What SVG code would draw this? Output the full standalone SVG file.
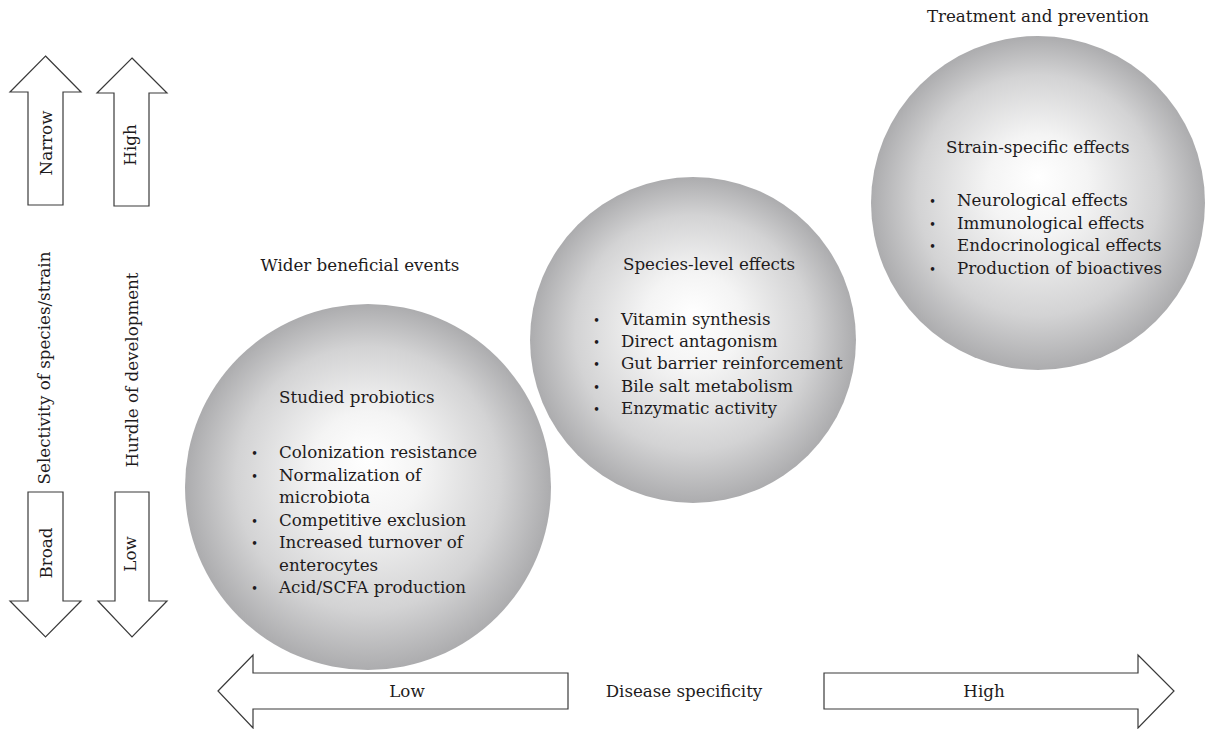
<svg xmlns="http://www.w3.org/2000/svg" width="1207" height="729" viewBox="0 0 1207 729">
  <style>
    text { font-family: "DejaVu Serif", "Liberation Serif", serif; font-size: 16.7px; fill: #1e1b1c; }
    .mid { text-anchor: middle; }
    .dot { font-size: 12px; }
    .arrow { fill: #ffffff; stroke: #3a3a3a; stroke-width: 1.2; stroke-linejoin: miter; }
    .ball { fill: url(#shade); }
  </style>
  <defs>
    <radialGradient id="shade" cx="0.5" cy="0.5" r="0.5" fx="0.5" fy="0.42">
      <stop offset="0" stop-color="#ffffff"/>
      <stop offset="0.3" stop-color="#f4f4f4"/>
      <stop offset="0.72" stop-color="#d3d3d4"/>
      <stop offset="1" stop-color="#acacae"/>
    </radialGradient>
  </defs>

  <!-- vertical scale arrows -->
  <g id="axis-selectivity">
    <polygon class="arrow" points="45.5,56 81,92 63,92 63,205 28,205 28,92 10,92"/>
    <text class="mid" transform="translate(52,143) rotate(-90)">Narrow</text>
    <text class="mid" transform="translate(50,368) rotate(-90)">Selectivity of species/strain</text>
    <polygon class="arrow" points="28,492 63,492 63,601 81,601 45.5,637 10,601 28,601"/>
    <text class="mid" transform="translate(52,553) rotate(-90)">Broad</text>
  </g>
  <g id="axis-hurdle">
    <polygon class="arrow" points="132,58 167,93 149,93 149,206 114,206 114,93 97,93"/>
    <text class="mid" transform="translate(136,145) rotate(-90)">High</text>
    <text class="mid" transform="translate(138,370) rotate(-90)">Hurdle of development</text>
    <polygon class="arrow" points="115,492 149,492 149,601 167,601 132,637 98,601 115,601"/>
    <text class="mid" transform="translate(136,554) rotate(-90)">Low</text>
  </g>

  <!-- effect spheres -->
  <g id="studied-probiotics">
    <text class="mid" x="360" y="271">Wider beneficial events</text>
    <circle class="ball" cx="368" cy="487" r="183"/>
    <text x="279" y="403">Studied probiotics</text>
    <text class="dot" x="251" y="458">•</text>
    <text x="279" y="458">Colonization resistance</text>
    <text class="dot" x="251" y="480.5">•</text>
    <text x="279" y="480.5">Normalization of</text>
    <text x="279" y="503">microbiota</text>
    <text class="dot" x="251" y="525.5">•</text>
    <text x="279" y="525.5">Competitive exclusion</text>
    <text class="dot" x="251" y="548">•</text>
    <text x="279" y="548">Increased turnover of</text>
    <text x="279" y="570.5">enterocytes</text>
    <text class="dot" x="251" y="593">•</text>
    <text x="279" y="593">Acid/SCFA production</text>
  </g>

  <g id="species-level">
    <circle class="ball" cx="693" cy="340" r="163"/>
    <text x="623" y="270">Species-level effects</text>
    <text class="dot" x="593" y="325">•</text>
    <text x="621" y="325">Vitamin synthesis</text>
    <text class="dot" x="593" y="347">•</text>
    <text x="621" y="347">Direct antagonism</text>
    <text class="dot" x="593" y="369">•</text>
    <text x="621" y="369">Gut barrier reinforcement</text>
    <text class="dot" x="593" y="391.5">•</text>
    <text x="621" y="391.5">Bile salt metabolism</text>
    <text class="dot" x="593" y="414">•</text>
    <text x="621" y="414">Enzymatic activity</text>
  </g>

  <g id="strain-specific">
    <text class="mid" x="1038" y="22">Treatment and prevention</text>
    <circle class="ball" cx="1038" cy="203" r="167"/>
    <text x="946" y="153">Strain-specific effects</text>
    <text class="dot" x="929" y="206">•</text>
    <text x="957" y="206">Neurological effects</text>
    <text class="dot" x="929" y="228.5">•</text>
    <text x="957" y="228.5">Immunological effects</text>
    <text class="dot" x="929" y="251">•</text>
    <text x="957" y="251">Endocrinological effects</text>
    <text class="dot" x="929" y="273.5">•</text>
    <text x="957" y="273.5">Production of bioactives</text>
  </g>

  <!-- horizontal disease-specificity scale -->
  <g id="axis-disease">
    <polygon class="arrow" points="218,691 253,655 253,673 568,673 568,709 253,709 253,728"/>
    <text class="mid" x="407" y="697">Low</text>
    <text class="mid" x="684" y="697">Disease specificity</text>
    <polygon class="arrow" points="824,673 1138,673 1138,655 1174,691 1138,728 1138,709 824,709"/>
    <text class="mid" x="984" y="697">High</text>
  </g>

  <g id="connectors"></g>
</svg>
